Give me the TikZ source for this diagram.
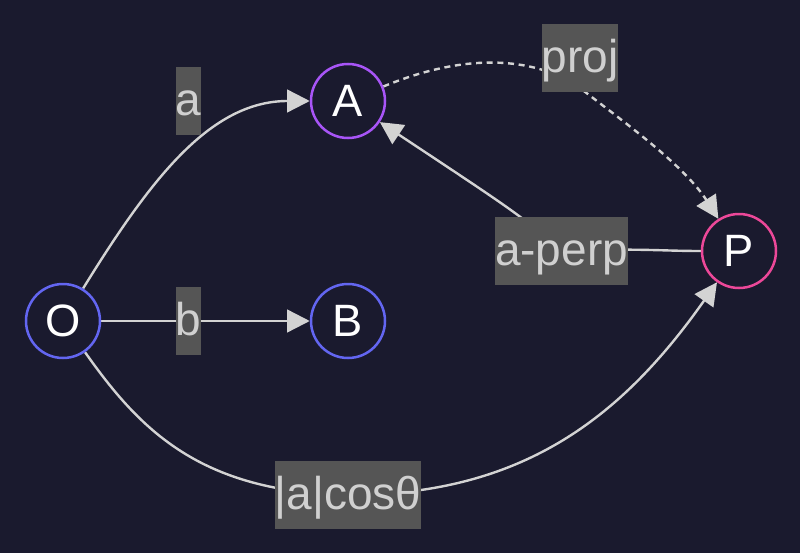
\documentclass[tikz,border=0pt]{standalone}
\usepackage{fontspec}
\setmainfont{Liberation Sans}
\usetikzlibrary{arrows.meta}
\pgfdeclarelayer{bglayer}
\pgfdeclarelayer{edgelayer}
\pgfsetlayers{bglayer,edgelayer,main}
\definecolor{bgc}{HTML}{1A1A2E}
\definecolor{edgec}{HTML}{D3D3D3}
\definecolor{lblbg}{HTML}{555555}
\definecolor{lbltx}{HTML}{D0D0D0}
\definecolor{blu}{HTML}{6366F1}
\definecolor{pur}{HTML}{A855F7}
\definecolor{pnk}{HTML}{EC4899}
\begin{document}
\begin{tikzpicture}[x=0.75pt,y=-0.75pt,
  vnode/.style={circle,draw,line width=1.875pt,fill=bgc,minimum size=55.5pt,inner sep=0pt,text=white,font=\fontsize{34}{40}\selectfont},
  elbl/.style={fill=lblbg,text=lbltx,inner xsep=0pt,inner ysep=0pt,minimum height=51pt,text height=24pt,text depth=3pt,font=\fontsize{34.5}{40}\selectfont},
  conn/.style={draw=edgec,line width=1.8pt},
  tip/.style={-{Triangle[length=17pt,width=17pt]}},
  dashline/.style={dash pattern=on 4.5pt off 3.5pt}
]
\begin{pgfonlayer}{bglayer}
  \fill[bgc] (0,0) rectangle (800,553);
\end{pgfonlayer}
\useasboundingbox (0,0) rectangle (800,553);

% vertices
\node[vnode,draw=blu] (O) at (63,321) {O};
\node[vnode,draw=pur] (A) at (348,101) {A};
\node[vnode,draw=blu] (B) at (348,321) {B};
\node[vnode,draw=pnk] (P) at (739,251) {P};

% edge labels
\node[elbl] (la) at (188.5,101) {a};
\node[elbl] (lb) at (188.5,321) {b};
\node[elbl] (proj) at (580,58) {proj};
\node[elbl] (aperp) at (561.5,251) {a-perp};
\node[elbl] (cos) at (348,495) {|a|cosθ};
\coordinate (pj) at (575,84);

\begin{pgfonlayer}{edgelayer}
  % O -> A
  \draw[conn,tip] (O) .. controls (150,180) and (210,101) .. (A);
  % O -> B
  \draw[conn,tip] (O) -- (B);
  % A -> P (dashed)
  \draw[conn,dashline] (A) .. controls (460,55) and (525,55) .. (pj);
  \draw[conn,dashline,tip] (pj) .. controls (610,112) and (682,162) .. (P);
  % P -> A
  \draw[conn] (P) .. controls (660,251) and (640,248) .. (aperp.center);
  \draw[conn,tip] (aperp.center) .. controls (520,215) .. (A);
  % O -> P
  \draw[conn] (O) .. controls (140,430) and (200,492) .. (cos.center);
  \draw[conn,tip] (cos.center) .. controls (520,495) and (620,420) .. (P);
\end{pgfonlayer}
\end{tikzpicture}
\end{document}
